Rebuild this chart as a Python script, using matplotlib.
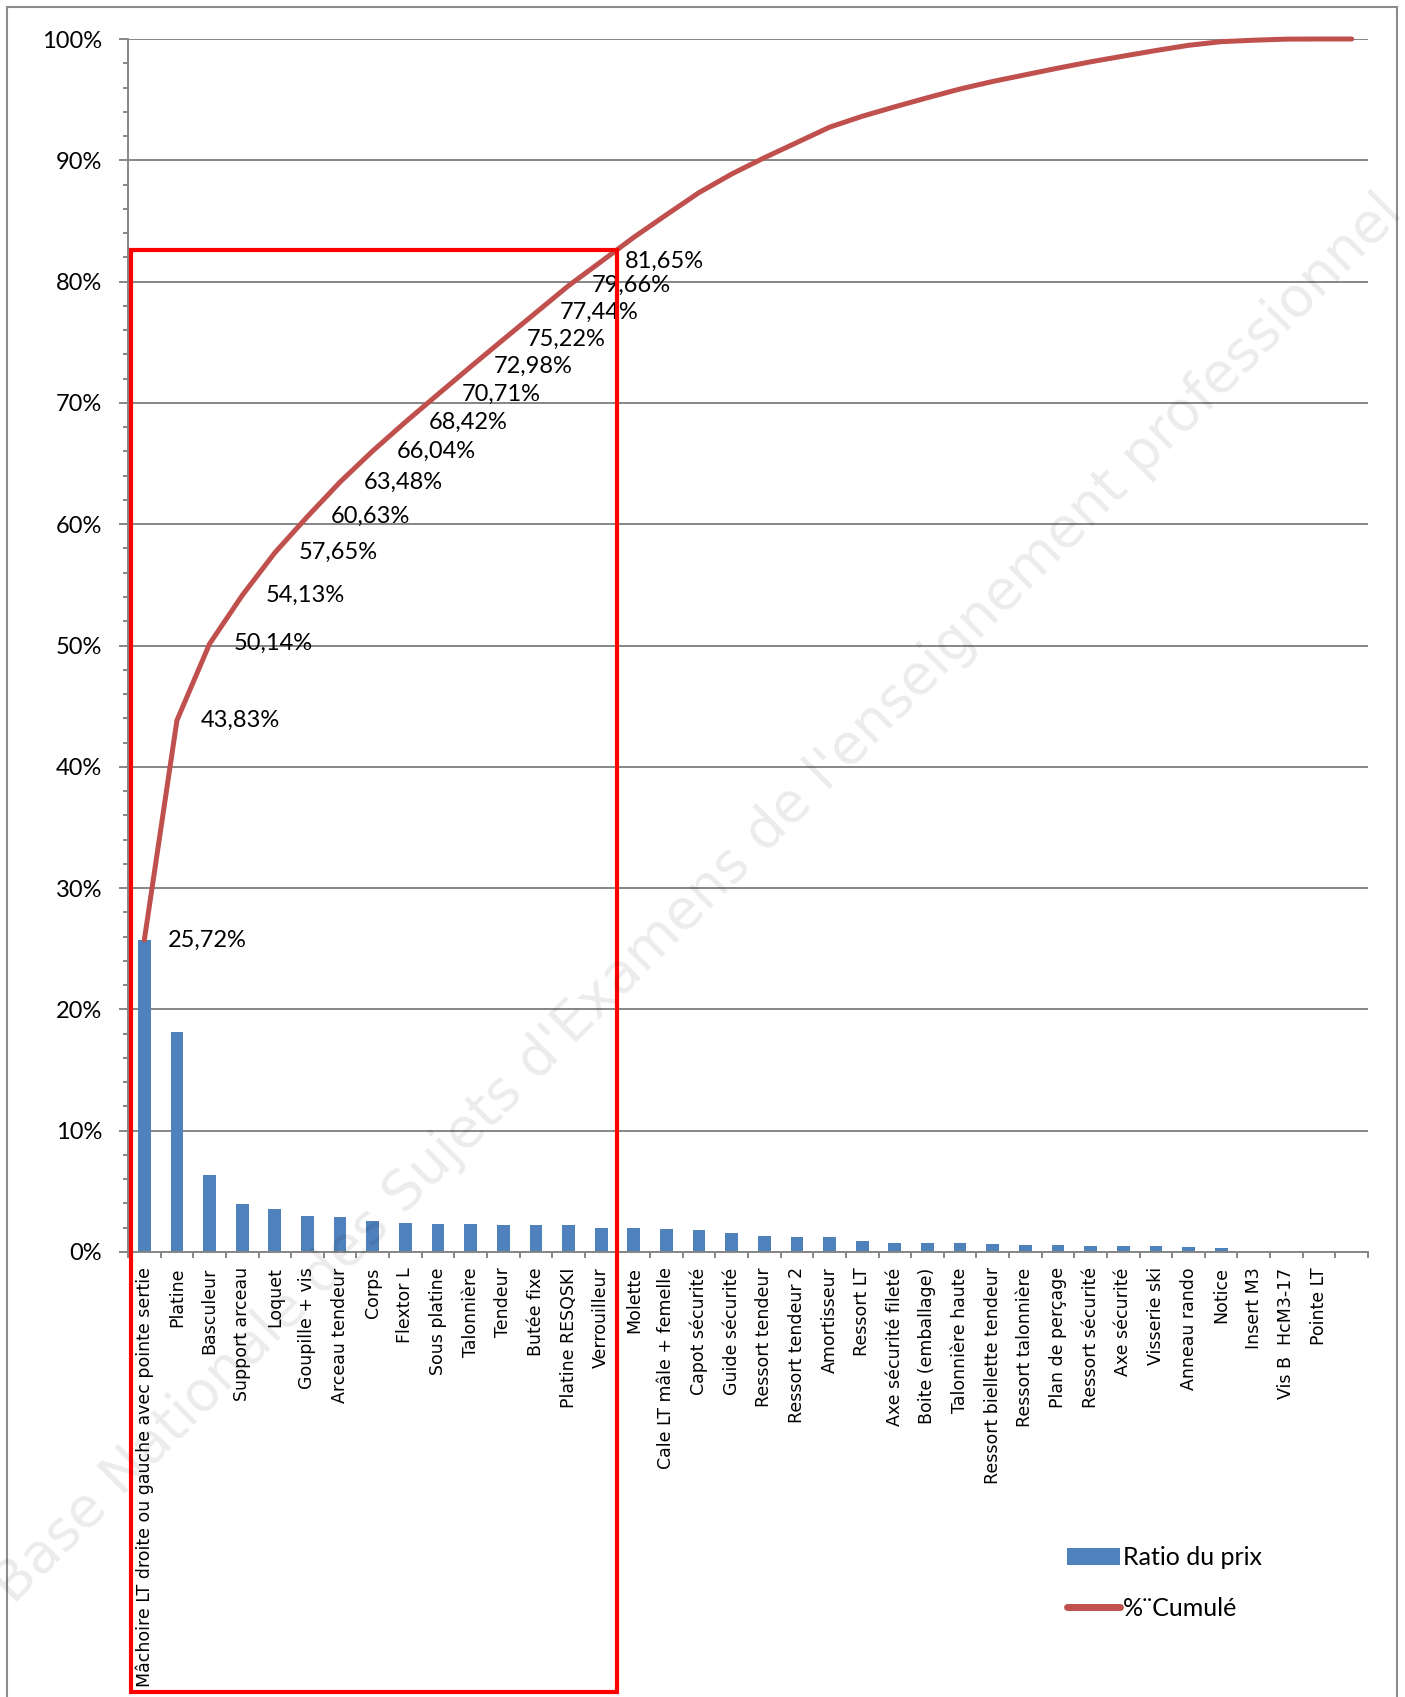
import matplotlib
matplotlib.use('Agg')
import matplotlib.pyplot as plt
from matplotlib.ticker import MultipleLocator, FixedLocator
from matplotlib.patches import Rectangle, Patch
from matplotlib.lines import Line2D
import numpy as np

# Données : ratio du prix par pièce (%)
pieces = ['Mâchoire LT droite ou gauche avec pointe sertie', 'Platine', 'Basculeur',
          'Support arceau', 'Loquet', 'Goupille + vis', 'Arceau tendeur', 'Corps',
          'Flextor L', 'Sous platine', 'Talonnière', 'Tendeur', 'Butée fixe',
          'Platine RESQSKI', 'Verrouilleur', 'Molette', 'Cale LT mâle + femelle',
          'Capot sécurité', 'Guide sécurité', 'Ressort tendeur', 'Ressort tendeur 2',
          'Amortisseur', 'Ressort LT', 'Axe sécurité fileté', 'Boite (emballage)',
          'Talonnière haute', 'Ressort biellette tendeur', 'Ressort talonnière',
          'Plan de perçage', 'Ressort sécurité', 'Axe sécurité', 'Visserie ski',
          'Anneau rando', 'Notice', 'Insert M3', 'Vis B  HcM3-17', 'Pointe LT', '']
ratio = [25.72, 18.11, 6.31, 3.99, 3.52, 2.98, 2.85, 2.56, 2.38, 2.29, 2.27, 2.24, 2.22,
         2.22, 1.99, 2.00, 1.86, 1.83, 1.53, 1.34, 1.26, 1.26, 0.90, 0.78, 0.75, 0.72,
         0.62, 0.55, 0.55, 0.52, 0.47, 0.46, 0.43, 0.30, 0.12, 0.09, 0.01, 0.00]
nb_etiquettes = 15  # étiquettes du cumul affichées

cumul = np.cumsum(ratio)
x = np.arange(len(pieces))

W, H = 1405, 1697
fig = plt.figure(figsize=(W / 100, H / 100), dpi=100)
ax = fig.add_axes([128 / W, 1 - 1252 / H, (1368 - 128) / W, (1252 - 39) / H])

gris = '#868686'
bleu = '#4F81BD'
rouge = '#C0504D'

ax.bar(x, ratio, width=0.39, color=bleu, zorder=2)
ax.plot(x, cumul, color=rouge, lw=3.6, zorder=3, clip_on=False,
        solid_joinstyle='round', solid_capstyle='round')

for i in range(nb_etiquettes):
    txt = f"{cumul[i]:.2f}".replace('.', ',') + '%'
    ax.annotate(txt, (x[i], cumul[i]), xytext=(17, 0), textcoords='offset points',
                ha='left', va='center', fontsize=17, family='Lato', zorder=4)

ax.set_xlim(-0.5, len(pieces) - 0.5)
ax.set_ylim(0, 100)

# axe Y
ax.yaxis.set_major_locator(MultipleLocator(10))
ax.yaxis.set_minor_locator(MultipleLocator(2))
ax.set_yticks(np.arange(0, 101, 10))
ax.set_yticklabels([f"{v}%" for v in range(0, 101, 10)], family='Lato', fontsize=17)
ax.tick_params(axis='y', which='major', length=6.5, width=1.4, color=gris, pad=12)
ax.tick_params(axis='y', which='minor', length=3.6, width=1.4, color=gris)
ax.yaxis.grid(True, color=gris, lw=1.4)
ax.set_axisbelow(True)

# axe X
ax.set_xticks(x)
ax.set_xticklabels(pieces, rotation=90, fontsize=12.5, family='DejaVu Sans', va='top')
ax.xaxis.set_minor_locator(FixedLocator(np.arange(-0.5, len(pieces), 1.0)))
ax.tick_params(axis='x', which='major', length=0, pad=11)
ax.tick_params(axis='x', which='minor', length=4.5, width=1.4, color=gris)

for s in ['top', 'right']:
    ax.spines[s].set_visible(False)
for s in ['left', 'bottom']:
    ax.spines[s].set_color(gris)
    ax.spines[s].set_linewidth(1.4)

# cadre rouge sur les 15 premières pièces
ax.add_patch(Rectangle((-0.41, -36.3), 14.91, 36.3 + 82.6, fill=False,
                       edgecolor='#FF0000', lw=3, clip_on=False, zorder=5))

# cadre extérieur du graphique
fig.patches.append(Rectangle((7 / W, -0.01), (1397 - 7) / W, 1 - 7 / H + 0.01,
                             transform=fig.transFigure, fill=False,
                             edgecolor='#8c8c8c', lw=1.5))

# légende
handles = [Patch(facecolor=bleu, edgecolor='none'),
           Line2D([0], [0], color=rouge, lw=5, solid_capstyle='round')]
leg = fig.legend(handles, ['Ratio du prix', '%¨Cumulé'], loc='upper left',
                 bbox_to_anchor=(1067 / W, 1 - 1546 / H), frameon=False,
                 prop={'family': 'Lato', 'size': 18}, handlelength=2.1,
                 handletextpad=0.15, labelspacing=1.1, borderpad=0, borderaxespad=0)

# filigrane
fig.text(0.497, 0.47, "Base Nationale des Sujets d'Examens de l'enseignement professionnel",
         rotation=45, rotation_mode='anchor', ha='center', va='center',
         fontsize=40, color='#000000', alpha=0.08, family='DejaVu Sans', zorder=10)

fig.savefig('out.png', dpi=100)
